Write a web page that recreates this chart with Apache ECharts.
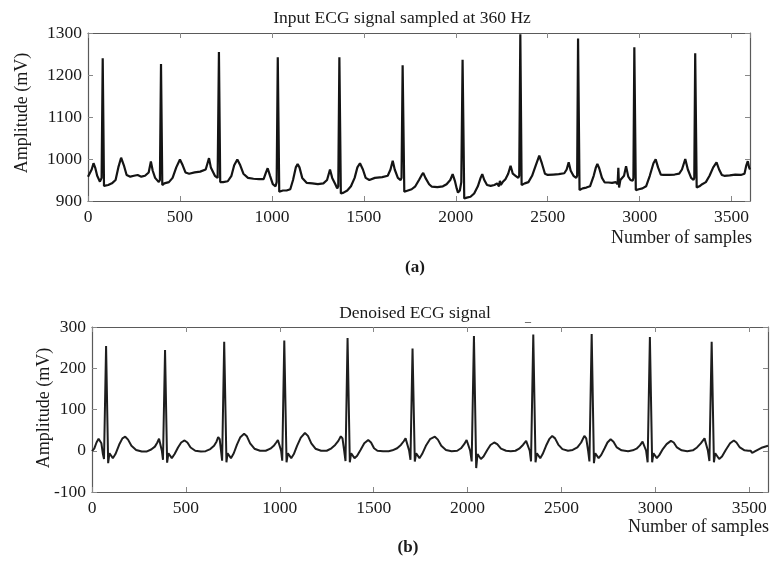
<!DOCTYPE html>
<html>
<head>
<meta charset="utf-8">
<script src="https://cdn.jsdelivr.net/npm/echarts@6/dist/echarts.min.js"></script>
<style>html,body{margin:0;padding:0;background:#fff}#c{width:782px;height:569px}</style>
</head>
<body>
<div id="c"></div>
<script>
// ---- Data ----
const titleTop = 'Input ECG signal sampled at 360 Hz';
const titleBottom = 'Denoised ECG signal';
const xAxisLabel = 'Number of samples';
const yAxisLabel = 'Amplitude (mV)';
const xTicks = [0, 500, 1000, 1500, 2000, 2500, 3000, 3500];
const yTicksTop = [900, 1000, 1100, 1200, 1300];
const yTicksBottom = [-100, 0, 100, 200, 300];

// (a) input ECG: sample index and amplitude
const inputSamples = [0,10,20,30,40,50,65,74,80,87,95,110,130,150,165,180,195,210,230,250,270,290,310,330,342,352,365,385,391,397,404,415,440,460,480,500,515,530,550,580,610,640,650,658,668,690,705,712,719,735,760,780,795,812,828,845,870,900,930,955,968,977,990,1005,1020,1026,1032,1040,1060,1080,1100,1115,1130,1140,1150,1165,1190,1220,1250,1280,1300,1316,1328,1345,1355,1361,1367,1375,1390,1410,1430,1450,1465,1479,1495,1510,1530,1560,1600,1630,1645,1657,1668,1685,1700,1705,1711,1720,1740,1760,1780,1800,1815,1823,1835,1855,1870,1900,1930,1950,1970,1983,1995,2005,2012,2017,2022,2030,2037,2046,2060,2080,2100,2120,2135,2144,2155,2170,2190,2210,2225,2235,2240,2245,2255,2270,2285,2298,2310,2325,2340,2345,2351,2358,2375,2395,2415,2435,2454,2468,2485,2500,2530,2560,2590,2603,2614,2625,2640,2655,2660,2665,2673,2690,2710,2730,2750,2762,2770,2780,2795,2810,2830,2850,2870,2880,2884,2888,2895,2905,2915,2926,2938,2950,2962,2966,2971,2979,2995,3015,3035,3055,3075,3087,3100,3115,3130,3160,3190,3215,3230,3248,3262,3280,3293,3297,3302,3310,3325,3340,3360,3380,3400,3418,3432,3447,3460,3490,3520,3550,3570,3580,3588,3595,3600];
const inputAmplitude = [958,962,975,990,978,960,946,955,1240,936,936,938,942,950,980,1003,985,962,958,960,962,958,960,968,994,972,955,945,950,1226,938,942,945,955,980,999,985,968,965,968,970,975,990,1002,980,960,955,1255,945,945,947,960,985,999,985,965,955,953,952,952,968,978,960,940,935,945,1242,922,925,925,928,950,980,988,980,955,943,942,940,942,950,975,955,940,930,935,1242,918,920,925,935,955,980,990,975,955,950,955,957,960,975,996,975,955,950,955,1223,922,925,928,935,950,962,967,955,940,934,933,935,940,950,964,948,930,920,918,925,945,1236,906,908,910,918,935,955,964,950,938,936,938,942,935,948,938,945,952,965,984,965,960,955,960,1297,938,942,945,960,985,1008,990,965,962,963,964,966,975,992,972,960,955,960,1287,926,930,932,935,960,980,988,978,955,944,944,943,945,940,979,932,950,948,960,983,958,950,948,955,1266,926,928,930,935,960,990,999,980,963,962,962,963,965,975,1000,975,955,950,955,1252,932,935,940,945,960,980,992,975,962,960,961,963,962,965,985,995,980,975];

// (b) denoised ECG: sample index and amplitude
const denoisedSamples = [0,12,24,35,42,50,58,64,75,86,93,101,111,125,145,162,177,192,210,235,265,290,315,335,348,357,365,372,378,389,400,407,415,425,440,458,475,493,508,525,550,580,605,630,650,663,672,680,687,693,704,716,722,730,740,755,772,790,810,825,842,865,895,925,950,968,981,990,1000,1007,1013,1024,1036,1043,1051,1061,1075,1092,1112,1134,1150,1168,1190,1220,1250,1275,1295,1312,1325,1334,1343,1350,1361,1373,1380,1388,1398,1412,1430,1450,1471,1486,1502,1520,1550,1580,1600,1625,1645,1660,1670,1680,1689,1696,1707,1719,1726,1734,1744,1758,1778,1800,1826,1842,1860,1885,1915,1945,1965,1982,1995,2005,2014,2022,2034,2046,2053,2061,2071,2085,2105,2122,2142,2158,2178,2205,2230,2255,2275,2295,2312,2322,2331,2338,2350,2362,2369,2377,2387,2400,2418,2435,2451,2466,2483,2505,2535,2560,2585,2605,2622,2632,2642,2649,2661,2673,2680,2688,2698,2712,2730,2745,2762,2777,2795,2820,2855,2880,2900,2918,2932,2942,2951,2959,2971,2983,2990,2998,3008,3022,3040,3060,3083,3098,3115,3140,3170,3200,3222,3242,3262,3271,3280,3288,3300,3312,3319,3327,3340,3355,3375,3398,3418,3432,3450,3475,3495,3503,3508,3514,3525,3545,3570,3600];
const denoisedAmplitude = [-1,5,20,29,30,18,-8,-20,254,-30,-6,-8,-18,-8,15,30,34,27,12,2,-2,-2,3,10,20,29,25,0,-22,244,-29,-6,-8,-18,-8,8,20,25,20,8,0,-2,-1,4,12,22,33,28,0,-24,264,-28,-6,-8,-18,-6,15,33,41,35,18,5,0,0,5,12,20,26,22,0,-24,267,-28,-6,-8,-18,-8,12,32,43,36,18,5,0,0,6,14,24,35,30,0,-25,273,-28,-6,-8,-18,-12,2,18,26,20,6,0,-1,-1,1,6,14,23,30,26,0,-22,248,-26,-6,-8,-18,-8,12,28,34,27,12,2,-1,0,6,16,26,22,0,-26,278,-42,-8,-10,-20,-14,2,14,20,16,5,0,-1,0,5,14,24,22,0,-26,282,-28,-6,-8,-18,-8,12,28,36,30,15,4,0,2,8,20,36,30,0,-26,283,-30,-6,-8,-18,-10,6,20,28,22,8,1,-1,1,5,13,22,20,0,-28,276,-28,-6,-8,-18,-10,4,16,24,20,8,1,-1,1,8,18,30,26,0,-25,264,-28,-6,-10,-20,-14,2,18,25,20,8,1,0,-4,0,-5,-3,2,8,12];

// ---- Chart ----
const SERIF = '"Liberation Serif", "Times New Roman", serif';
const chart = echarts.init(document.getElementById('c'), null, {renderer: 'canvas'});

function pairs(xs, ys) { return xs.map((x, i) => [x, ys[i]]); }

const frameColor = '#5a5a5a';
const tickColor = '#888';
function xAxisDef(gridIndex, position, labels) {
  return {
    type: 'value', gridIndex, position, min: xTicks[0], max: 3600, interval: 500,
    axisLine: {show: true, onZero: false, lineStyle: {color: frameColor, width: 1.2}},
    axisTick: {show: true, inside: true, length: 5, lineStyle: {color: tickColor}},
    splitLine: {show: false},
    axisLabel: {show: labels, color: '#1a1a1a', fontFamily: SERIF, fontSize: 17.5, margin: 7,
      showMaxLabel: false,
      formatter: v => (xTicks.indexOf(v) >= 0 ? String(v) : '')}
  };
}
function yAxisDef(gridIndex, position, ticks, labels) {
  return {
    type: 'value', gridIndex, position, min: ticks[0], max: ticks[ticks.length - 1], interval: 100,
    axisLine: {show: true, onZero: false, lineStyle: {color: frameColor, width: 1.2}},
    axisTick: {show: true, inside: true, length: 5, lineStyle: {color: tickColor}},
    splitLine: {show: false},
    axisLabel: {show: labels, color: '#1a1a1a', fontFamily: SERIF, fontSize: 17.5, margin: 6,
      formatter: v => String(v)}
  };
}

function txt(text, x, y, opts) {
  opts = opts || {};
  return {
    type: 'text', x, y, rotation: opts.rotation || 0, silent: true,
    style: {text, fill: '#1a1a1a', font: (opts.weight || 'normal') + ' ' + (opts.size || 17.5) + 'px ' + SERIF,
      textAlign: opts.align || 'center', textVerticalAlign: 'middle'}
  };
}

chart.setOption({
  animation: false,
  backgroundColor: '#fff',
  grid: [
    {left: 88, top: 33, width: 662, height: 168},
    {left: 92, top: 327, width: 676, height: 165}
  ],
  xAxis: [xAxisDef(0, 'bottom', true), xAxisDef(0, 'top', false), xAxisDef(1, 'bottom', true), xAxisDef(1, 'top', false)],
  yAxis: [yAxisDef(0, 'left', yTicksTop, true), yAxisDef(0, 'right', yTicksTop, false),
          yAxisDef(1, 'left', yTicksBottom, true), yAxisDef(1, 'right', yTicksBottom, false)],
  series: [
    {type: 'line', xAxisIndex: 0, yAxisIndex: 0, data: pairs(inputSamples, inputAmplitude),
     showSymbol: false, lineStyle: {color: '#141414', width: 2.2}, clip: true},
    {type: 'line', xAxisIndex: 2, yAxisIndex: 2, data: pairs(denoisedSamples, denoisedAmplitude),
     showSymbol: false, lineStyle: {color: '#1e1e1e', width: 2}, clip: true}
  ],
  graphic: [
    txt(titleTop, 402, 18),
    txt(titleBottom, 415, 313),
    txt('_', 528, 318, {size: 12}),
    txt(xAxisLabel, 752, 238, {align: 'right', size: 18}),
    txt(xAxisLabel, 769, 527, {align: 'right', size: 18}),
    txt(yAxisLabel, 22, 113, {rotation: Math.PI / 2, size: 18}),
    txt(yAxisLabel, 44, 408, {rotation: Math.PI / 2, size: 18}),
    txt('(a)', 415, 268, {weight: 'bold', size: 17}),
    txt('(b)', 408, 548, {weight: 'bold', size: 17})
  ]
});
</script>
</body>
</html>
